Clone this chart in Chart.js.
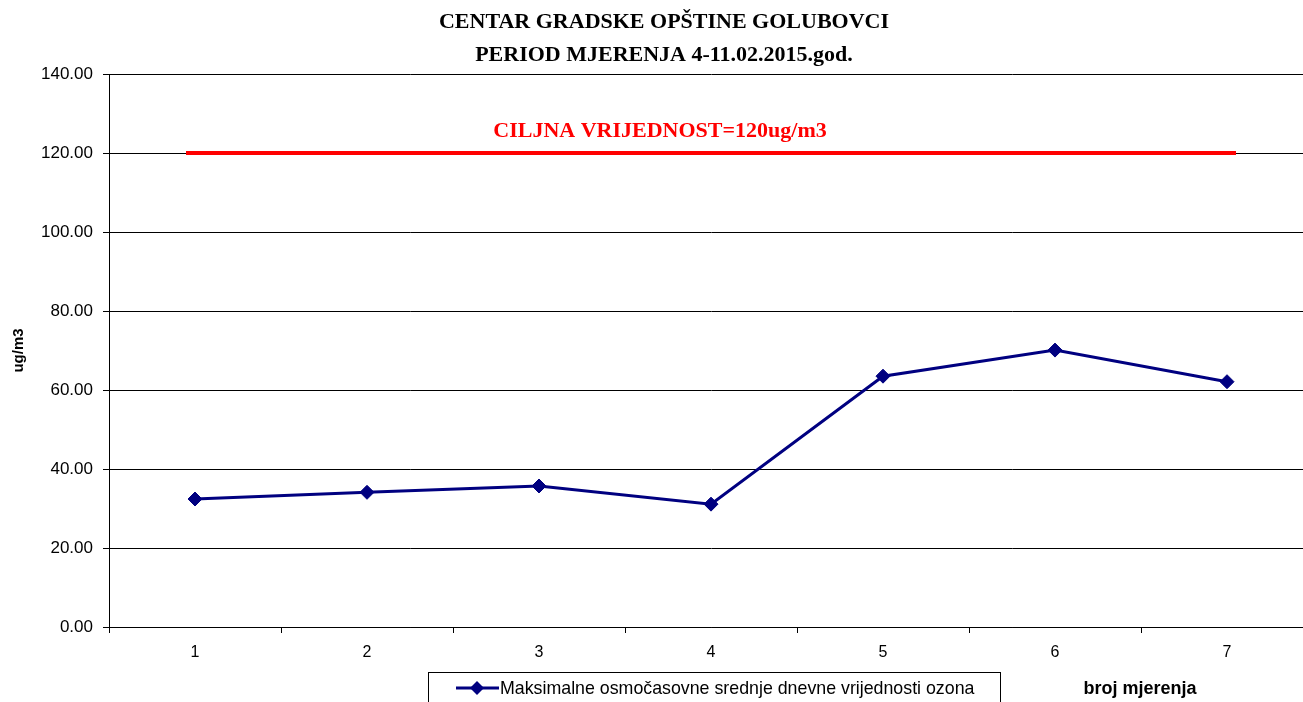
<!DOCTYPE html>
<html>
<head>
<meta charset="utf-8">
<script src="https://cdn.jsdelivr.net/npm/chart.js@4/dist/chart.umd.min.js"></script>
<style>
  body { margin: 0; overflow: hidden; background: #fff; }
  #wrap { width: 1326px; height: 702px; }
</style>
</head>
<body>
<div id="wrap"><canvas id="ozonChart" width="1326" height="702"></canvas></div>
<script>
const categories = ["1", "2", "3", "4", "5", "6", "7"];
const ozonValues = [32.4, 34.1, 35.7, 31.1, 63.5, 70.1, 62.1];
const limitValues = [120, 120, 120, 120, 120, 120, 120];
const yTicks = [0, 20, 40, 60, 80, 100, 120, 140];

const titleLines = ["CENTAR GRADSKE OPŠTINE GOLUBOVCI", "PERIOD MJERENJA 4-11.02.2015.god."];
const limitLabel = "CILJNA VRIJEDNOST=120ug/m3";
const seriesLabel = "Maksimalne osmočasovne srednje dnevne vrijednosti ozona";
const xTitle = "broj mjerenja";
const yTitle = "ug/m3";

const sans = "'Liberation Sans', Arial, sans-serif";
const serif = "'Liberation Serif', 'Times New Roman', serif";
const navy = "#000080";

const textPlugin = {
  id: "texts",
  afterDraw(chart) {
    const ctx = chart.ctx;
    const area = chart.chartArea;
    const cx = 664;
    ctx.save();
    ctx.fillStyle = "#000";
    ctx.textAlign = "center";
    ctx.textBaseline = "middle";
    ctx.font = "bold 22px " + serif;
    ctx.fillText(titleLines[0], cx, 22);
    ctx.fillText(titleLines[1], cx, 55);

    // label above the target line
    const yLim = chart.scales.y.getPixelForValue(limitValues[0]);
    ctx.fillStyle = "#ff0000";
    ctx.fillText(limitLabel, 660, yLim - 22);

    // y title
    ctx.fillStyle = "#000";
    ctx.font = "bold 15px " + sans;
    ctx.save();
    ctx.translate(19, (area.top + area.bottom) / 2);
    ctx.rotate(-Math.PI / 2);
    ctx.fillText(yTitle, 0, 0);
    ctx.restore();

    // x title
    ctx.font = "bold 18px " + sans;
    ctx.fillText(xTitle, 1140, 689);

    // legend box
    ctx.strokeStyle = "#000";
    ctx.lineWidth = 1;
    ctx.strokeRect(428.5, 672.5, 572, 40);
    ctx.strokeStyle = navy;
    ctx.lineWidth = 3;
    ctx.beginPath();
    ctx.moveTo(456, 688);
    ctx.lineTo(499, 688);
    ctx.stroke();
    ctx.fillStyle = navy;
    ctx.beginPath();
    ctx.moveTo(477, 681);
    ctx.lineTo(484, 688);
    ctx.lineTo(477, 695);
    ctx.lineTo(470, 688);
    ctx.closePath();
    ctx.fill();
    ctx.fillStyle = "#000";
    ctx.textAlign = "left";
    ctx.font = "17.8px " + sans;
    ctx.fillText(seriesLabel, 500, 689);
    ctx.restore();
  }
};

new Chart(document.getElementById("ozonChart"), {
  type: "line",
  data: {
    labels: categories,
    datasets: [
      {
        label: "limit",
        data: limitValues,
        borderColor: "#ff0000",
        borderWidth: 4,
        pointStyle: "line",
        pointRadius: 9,
        pointBorderColor: "#ff0000",
        pointBorderWidth: 4,
        pointHoverRadius: 9,
        tension: 0
      },
      {
        label: seriesLabel,
        data: ozonValues,
        borderColor: navy,
        backgroundColor: navy,
        borderWidth: 3,
        pointStyle: "rectRot",
        pointRadius: 7,
        pointBorderWidth: 1,
        pointBorderColor: navy,
        pointBackgroundColor: navy,
        tension: 0
      }
    ]
  },
  options: {
    responsive: false,
    animation: false,
    layout: { padding: { top: 74, left: 0, right: 1, bottom: 0 } },
    plugins: {
      legend: { display: false },
      title: { display: false },
      tooltip: { enabled: false }
    },
    scales: {
      x: {
        offset: true,
        afterFit: scale => { scale.height = 75; },
        grid: {
          offset: true,
          drawOnChartArea: false,
          color: "#000",
          tickLength: 6
        },
        border: { color: "#000", width: 1 },
        ticks: {
          color: "#000",
          padding: 10,
          font: { family: sans, size: 16 }
        }
      },
      y: {
        min: 0,
        max: 140,
        afterFit: scale => { scale.width = 109; },
        afterBuildTicks: scale => { scale.ticks = yTicks.map(v => ({ value: v })); },
        grid: {
          color: "#000",
          lineWidth: 1,
          tickLength: 6
        },
        border: { color: "#000", width: 1 },
        ticks: {
          color: "#000",
          padding: 10,
          font: { family: sans, size: 17 },
          callback: value => Number(value).toFixed(2)
        }
      }
    }
  },
  plugins: [textPlugin]
});
</script>
</body>
</html>
